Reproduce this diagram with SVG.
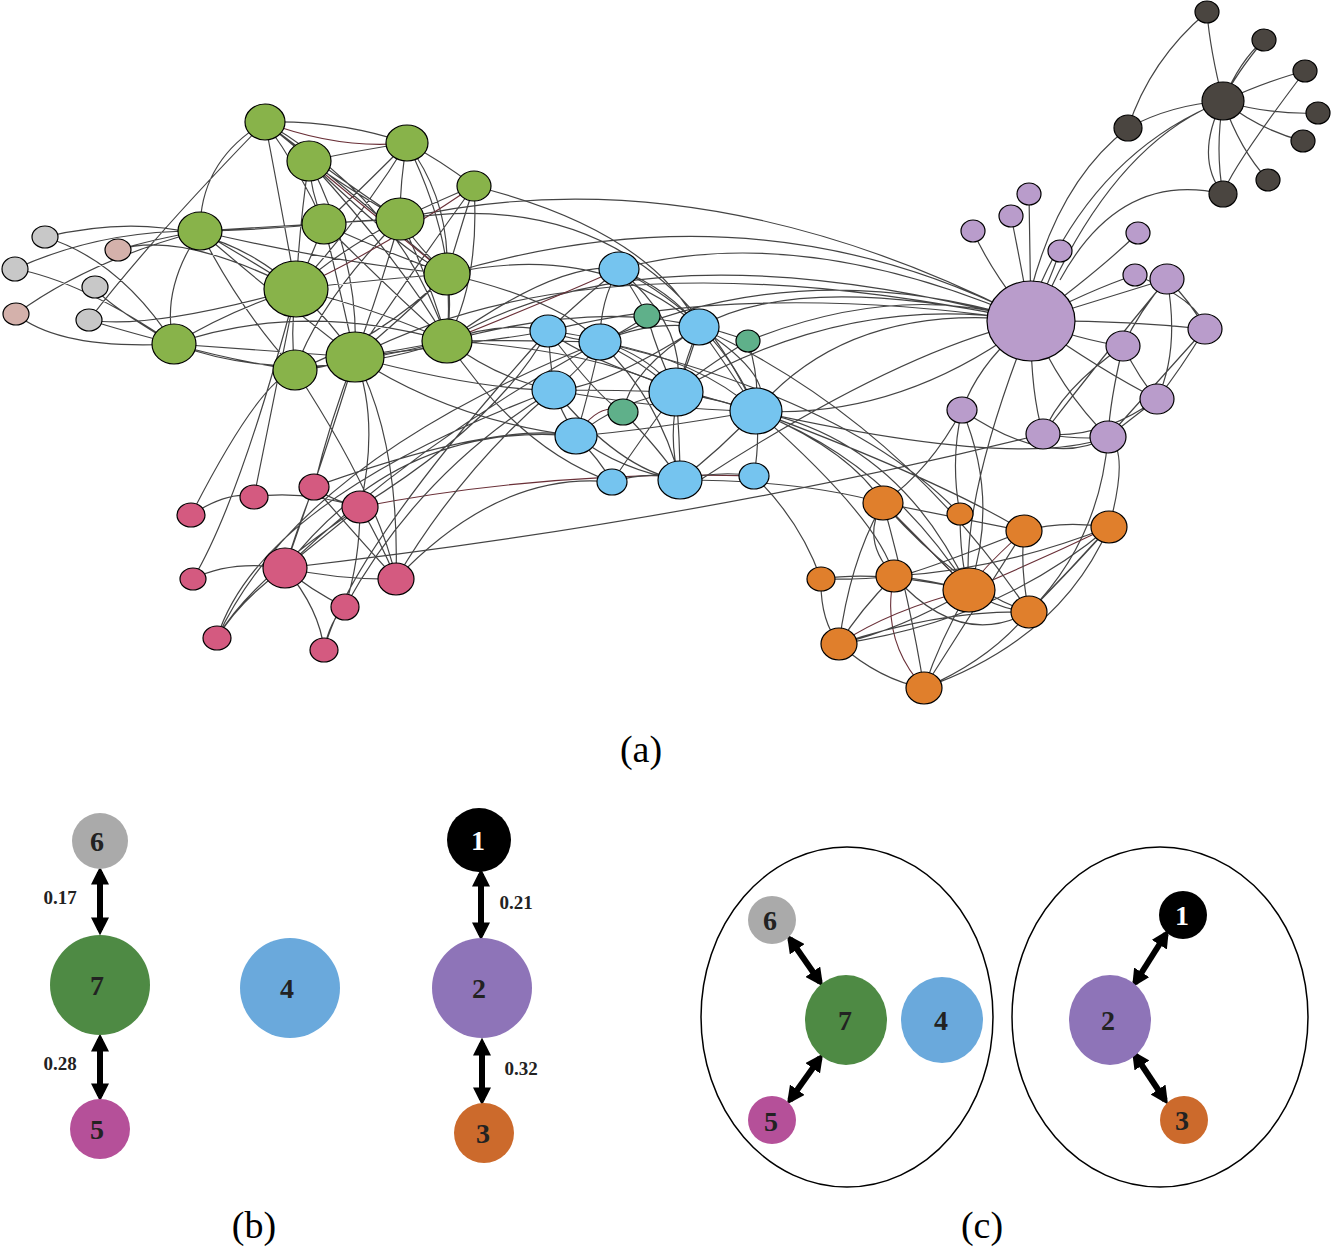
<svg xmlns="http://www.w3.org/2000/svg" width="1332" height="1249" viewBox="0 0 1332 1249">
<style>
.e{fill:none;stroke:#444;stroke-width:1.2}
.r{fill:none;stroke:#6a3038;stroke-width:1.1}
.n ellipse{stroke:#000;stroke-width:1.2}
.dk{fill:#4a4540}.pu{fill:#b99ccb}.gr{fill:#88b34a}.gy{fill:#c8c8c8}.pg{fill:#d4b1ab}.bl{fill:#75c4ef}.tl{fill:#5fb08a}.pk{fill:#d45a80}.or{fill:#e07f2c}
.cap{font-family:"Liberation Serif",serif;font-size:38px;text-anchor:middle}
.num{font-family:"Liberation Serif",serif;font-size:28px;font-weight:bold;text-anchor:middle;fill:#222}
.w{font-family:"Liberation Serif",serif;font-size:19px;font-weight:bold;text-anchor:middle;fill:#222}
.ar{stroke:#000;stroke-width:6;fill:none;marker-start:url(#ah);marker-end:url(#ah)}
</style>
<defs>
<marker id="ah" viewBox="0 0 10 10" refX="7" refY="5" markerWidth="3" markerHeight="3" orient="auto-start-reverse"><path d="M0,0 L10,5 L0,10 z" fill="#000"/></marker>
</defs>
<g id="connectors">
<path class="e" d="M1223 101 Q1210 50 1207 12 M1223 101 Q1240 60 1264 40 M1223 101 Q1270 80 1305 71 M1223 101 Q1270 115 1318 113 M1223 101 Q1260 130 1303 141 M1223 101 Q1240 150 1268 180 M1223 101 Q1215 150 1223 194 M1223 101 Q1170 105 1128 128 M1223 101 Q1100 150 1040 285 M1223 101 Q1120 140 1050 290 M1223 194 Q1120 170 1060 280 M1128 128 Q1060 180 1031 290 M1207 12 Q1150 60 1128 128 M1264 40 Q1180 140 1223 194 M1305 71 Q1230 170 1223 194"/>
<path class="e" d="M1031 321 Q1030 250 1029 194 M1031 321 Q1020 260 1011 216 M1031 321 Q990 270 973 231 M1031 321 Q1050 280 1060 251 M1031 321 Q1100 270 1138 233 M1031 321 Q1090 290 1135 275 M1031 321 Q1100 300 1167 279 M1031 321 Q1120 320 1205 329 M1031 321 Q1080 340 1123 346 M1031 321 Q1100 370 1157 399 M1031 321 Q1060 390 1108 437 M1031 321 Q1030 390 1043 434 M1031 321 Q980 360 962 410 M1167 279 Q1190 300 1205 329 M1167 279 Q1140 310 1123 346 M1167 279 Q1180 350 1157 399 M1167 279 Q1100 360 1043 434 M1205 329 Q1180 370 1157 399 M1205 329 Q1150 390 1108 437 M1123 346 Q1140 380 1157 399 M1123 346 Q1060 390 1043 434 M1123 346 Q1110 400 1108 437 M1157 399 Q1130 420 1108 437 M1157 399 Q1100 440 1043 434 M1043 434 Q1080 440 1108 437 M1108 437 Q1050 470 962 410 M1135 275 Q1200 300 1205 329 M1108 437 Q1020 470 756 411"/>
<path class="e" d="M1031 321 Q800 220 619 269 M1031 321 Q800 270 699 327 M1031 321 Q850 300 756 411 M1031 321 Q800 250 600 342 M1031 321 Q850 290 676 392 M1031 321 Q900 280 748 341 M1031 321 Q760 180 447 274 M1031 321 Q700 150 400 219 M1031 321 Q650 220 447 341 M1031 321 Q750 280 548 331 M1031 321 Q900 420 756 411 M1031 321 Q900 350 700 480 M1031 321 Q960 500 969 590 M962 410 Q930 470 883 503 M962 410 Q1000 500 969 590 M962 410 Q950 460 960 514 M1108 437 Q1100 540 1029 612 M1043 434 Q700 520 285 568 M1031 321 Q600 230 355 357"/>
<path class="e" d="M265 122 Q290 140 309 161 M265 122 Q340 180 400 219 M265 122 Q300 170 324 224 M265 122 Q280 200 296 289 M265 122 Q200 160 200 231 M265 122 Q360 200 447 274 M265 122 Q400 200 447 341 M265 122 Q340 120 407 143 M407 143 Q360 150 309 161 M407 143 Q400 180 400 219 M407 143 Q360 190 324 224 M407 143 Q450 200 447 274 M407 143 Q360 220 296 289 M407 143 Q460 250 447 341 M407 143 Q440 160 474 186 M309 161 Q350 190 400 219 M309 161 Q310 190 324 224 M309 161 Q300 220 296 289 M309 161 Q400 250 447 274 M309 161 Q360 260 355 357 M309 161 Q400 260 447 341 M474 186 Q440 200 400 219 M474 186 Q460 230 447 274 M474 186 Q480 280 447 341 M474 186 Q420 260 355 357 M200 231 Q260 230 324 224 M200 231 Q300 225 400 219 M200 231 Q250 260 296 289 M200 231 Q160 290 174 344 M200 231 Q280 300 355 357 M200 231 Q240 310 295 370 M200 231 Q320 260 447 274 M324 224 Q360 220 400 219 M324 224 Q310 260 296 289 M324 224 Q340 290 355 357 M324 224 Q380 250 447 274 M324 224 Q390 290 447 341 M400 219 Q420 250 447 274 M400 219 Q340 250 296 289 M400 219 Q380 290 355 357 M400 219 Q430 280 447 341 M400 219 Q320 300 295 370 M447 274 Q370 280 296 289 M447 274 Q400 320 355 357 M447 274 Q450 310 447 341 M447 274 Q380 340 295 370 M296 289 Q230 310 174 344 M296 289 Q330 320 355 357 M296 289 Q290 330 295 370 M296 289 Q380 310 447 341 M174 344 Q260 350 355 357 M174 344 Q230 360 295 370 M174 344 Q300 300 447 341 M174 344 Q300 390 447 341 M355 357 Q400 350 447 341 M355 357 Q320 370 295 370 M295 370 Q370 360 447 341 M174 344 Q120 260 45 237 M174 344 Q100 300 95 287 M174 344 Q120 330 89 320 M174 344 Q80 280 15 269 M200 231 Q100 230 15 269 M200 231 Q150 240 118 250 M200 231 Q90 260 16 314 M296 289 Q200 200 45 237 M265 122 Q150 240 89 320 M296 289 Q180 230 118 250 M174 344 Q60 350 16 314 M296 289 Q150 330 89 320"/>
<path class="r" d="M309 161 Q380 220 447 274 M265 122 Q340 150 407 143 M296 289 Q380 250 474 186 M447 341 Q550 300 619 269 M360 507 Q550 470 754 476 M883 503 Q940 560 969 590 M1109 527 Q1040 560 969 590 M839 644 Q890 610 969 590 M894 576 Q880 640 924 688 M1024 531 Q980 570 969 590 M576 436 Q600 400 623 412"/>
<path class="e" d="M447 341 Q500 320 548 331 M447 341 Q520 340 600 342 M447 341 Q500 380 554 390 M447 341 Q560 260 619 269 M447 341 Q600 300 699 327 M447 341 Q600 350 676 392 M355 357 Q500 340 548 331 M355 357 Q480 390 554 390 M447 274 Q560 300 600 342 M447 341 Q520 450 612 482 M355 357 Q450 420 576 436 M447 274 Q600 240 699 327 M400 219 Q650 180 756 411 M474 186 Q650 230 699 327"/>
<path class="e" d="M619 269 Q600 300 600 342 M619 269 Q580 300 548 331 M619 269 Q640 300 647 316 M619 269 Q670 290 699 327 M619 269 Q690 330 676 392 M619 269 Q720 320 756 411 M548 331 Q570 340 600 342 M548 331 Q550 360 554 390 M548 331 Q640 340 676 392 M548 331 Q600 400 623 412 M600 342 Q650 320 699 327 M600 342 Q640 360 676 392 M600 342 Q580 370 554 390 M600 342 Q590 390 576 436 M600 342 Q700 360 756 411 M600 342 Q660 400 680 480 M699 327 Q690 360 676 392 M699 327 Q730 370 756 411 M699 327 Q630 370 623 412 M699 327 Q720 330 748 341 M699 327 Q600 390 554 390 M699 327 Q660 420 680 480 M554 390 Q620 390 676 392 M554 390 Q560 410 576 436 M554 390 Q660 410 756 411 M676 392 Q720 400 756 411 M676 392 Q680 440 680 480 M676 392 Q620 400 576 436 M676 392 Q640 440 612 482 M756 411 Q720 450 680 480 M756 411 Q760 440 754 476 M756 411 Q650 430 576 436 M576 436 Q620 470 680 480 M576 436 Q600 460 612 482 M623 412 Q660 450 680 480 M647 316 Q660 360 676 392 M647 316 Q610 340 600 342 M748 341 Q760 380 756 411 M748 341 Q700 370 676 392 M612 482 Q650 470 680 480 M680 480 Q720 470 754 476 M554 390 Q620 470 680 480 M756 411 Q600 370 548 331 M699 327 Q780 380 756 411"/>
<path class="e" d="M756 411 Q850 450 883 503 M756 411 Q900 440 969 590 M756 411 Q940 480 1024 531 M676 392 Q860 420 969 590 M699 327 Q900 420 1029 612 M680 480 Q800 480 883 503 M756 411 Q880 520 894 576 M600 342 Q850 400 960 514 M754 476 Q800 520 821 579"/>
<path class="e" d="M360 507 Q330 500 314 487 M360 507 Q300 490 254 497 M360 507 Q320 540 285 568 M360 507 Q380 540 396 579 M360 507 Q360 560 345 607 M285 568 Q340 580 396 579 M285 568 Q310 590 345 607 M285 568 Q240 600 217 638 M285 568 Q320 610 324 650 M285 568 Q230 560 193 579 M191 515 Q230 490 254 497 M254 497 Q270 420 296 289 M314 487 Q330 420 355 357 M360 507 Q380 420 355 357 M285 568 Q330 440 355 357 M396 579 Q400 440 355 357 M396 579 Q380 500 295 370 M193 579 Q240 500 296 289 M191 515 Q260 380 295 370 M217 638 Q260 500 554 390 M217 638 Q300 460 600 342 M324 650 Q350 550 548 331 M285 568 Q400 420 576 436 M345 607 Q420 470 554 390 M396 579 Q500 470 612 482 M360 507 Q500 420 548 331 M396 579 Q460 470 554 390 M285 568 Q420 440 600 342 M314 487 Q500 420 576 436 M217 638 Q250 580 360 507 M396 579 Q360 540 314 487 M285 568 Q300 520 314 487 M324 650 Q330 620 345 607"/>
<path class="e" d="M883 503 Q860 540 894 576 M883 503 Q920 540 969 590 M883 503 Q850 560 839 644 M883 503 Q910 600 924 688 M883 503 Q970 520 1024 531 M883 503 Q960 590 1029 612 M1024 531 Q1060 520 1109 527 M1024 531 Q1020 570 1029 612 M1024 531 Q980 600 924 688 M1024 531 Q900 580 894 576 M1109 527 Q1070 570 1029 612 M1109 527 Q1060 640 924 688 M1109 527 Q1000 570 894 576 M1109 527 Q1000 620 839 644 M969 590 Q1000 610 1029 612 M969 590 Q940 640 924 688 M969 590 Q930 580 894 576 M969 590 Q900 630 839 644 M969 590 Q880 570 821 579 M894 576 Q860 580 821 579 M894 576 Q860 610 839 644 M894 576 Q960 650 1029 612 M839 644 Q880 680 924 688 M839 644 Q940 610 1029 612 M821 579 Q820 620 839 644 M924 688 Q990 660 1029 612 M960 514 Q960 560 969 590 M1029 612 Q1080 560 1109 527 M1109 527 Q1130 450 1108 437"/>
</g>
<g class="n">
<g id="dk"><ellipse class="dk" cx="1223" cy="101" rx="21" ry="19"/><ellipse class="dk" cx="1207" cy="12" rx="12" ry="11"/><ellipse class="dk" cx="1264" cy="40" rx="12" ry="11"/><ellipse class="dk" cx="1305" cy="71" rx="12" ry="11"/><ellipse class="dk" cx="1318" cy="113" rx="12" ry="11"/><ellipse class="dk" cx="1303" cy="141" rx="12" ry="11"/><ellipse class="dk" cx="1268" cy="180" rx="12" ry="11"/><ellipse class="dk" cx="1223" cy="194" rx="14" ry="13"/><ellipse class="dk" cx="1128" cy="128" rx="14" ry="13"/></g>
<g id="pu"><ellipse class="pu" cx="1031" cy="321" rx="44" ry="40"/><ellipse class="pu" cx="1029" cy="194" rx="12" ry="11"/><ellipse class="pu" cx="1011" cy="216" rx="12" ry="11"/><ellipse class="pu" cx="973" cy="231" rx="12" ry="11"/><ellipse class="pu" cx="1060" cy="251" rx="12" ry="11"/><ellipse class="pu" cx="1138" cy="233" rx="12" ry="11"/><ellipse class="pu" cx="1135" cy="275" rx="12" ry="11"/><ellipse class="pu" cx="1167" cy="279" rx="17" ry="15"/><ellipse class="pu" cx="1205" cy="329" rx="17" ry="15"/><ellipse class="pu" cx="1123" cy="346" rx="17" ry="15"/><ellipse class="pu" cx="1157" cy="399" rx="17" ry="15"/><ellipse class="pu" cx="1108" cy="437" rx="18" ry="16"/><ellipse class="pu" cx="1043" cy="434" rx="17" ry="15"/><ellipse class="pu" cx="962" cy="410" rx="15" ry="13"/></g>
<g id="gr"><ellipse class="gr" cx="265" cy="122" rx="20" ry="18"/><ellipse class="gr" cx="407" cy="143" rx="21" ry="18"/><ellipse class="gr" cx="309" cy="161" rx="22" ry="20"/><ellipse class="gr" cx="474" cy="186" rx="17" ry="15"/><ellipse class="gr" cx="200" cy="231" rx="22" ry="19"/><ellipse class="gr" cx="324" cy="224" rx="22" ry="20"/><ellipse class="gr" cx="400" cy="219" rx="24" ry="21"/><ellipse class="gr" cx="447" cy="274" rx="23" ry="21"/><ellipse class="gr" cx="296" cy="289" rx="32" ry="28"/><ellipse class="gr" cx="174" cy="344" rx="22" ry="20"/><ellipse class="gr" cx="355" cy="357" rx="29" ry="25"/><ellipse class="gr" cx="447" cy="341" rx="25" ry="22"/><ellipse class="gr" cx="295" cy="370" rx="22" ry="20"/></g>
<g id="gy"><ellipse class="gy" cx="45" cy="237" rx="13" ry="11"/><ellipse class="gy" cx="15" cy="269" rx="13" ry="12"/><ellipse class="gy" cx="95" cy="287" rx="13" ry="11"/><ellipse class="gy" cx="89" cy="320" rx="13" ry="11"/><ellipse class="pg" cx="118" cy="250" rx="13" ry="11"/><ellipse class="pg" cx="16" cy="314" rx="13" ry="11"/></g>
<g id="bl"><ellipse class="bl" cx="619" cy="269" rx="20" ry="17"/><ellipse class="bl" cx="548" cy="331" rx="18" ry="16"/><ellipse class="bl" cx="600" cy="342" rx="21" ry="18"/><ellipse class="bl" cx="699" cy="327" rx="20" ry="18"/><ellipse class="bl" cx="554" cy="390" rx="22" ry="19"/><ellipse class="bl" cx="676" cy="392" rx="27" ry="24"/><ellipse class="bl" cx="756" cy="411" rx="26" ry="23"/><ellipse class="bl" cx="576" cy="436" rx="21" ry="18"/><ellipse class="bl" cx="680" cy="480" rx="22" ry="19"/><ellipse class="bl" cx="612" cy="482" rx="15" ry="13"/><ellipse class="bl" cx="754" cy="476" rx="15" ry="13"/><ellipse class="tl" cx="647" cy="316" rx="13" ry="12"/><ellipse class="tl" cx="748" cy="341" rx="12" ry="11"/><ellipse class="tl" cx="623" cy="412" rx="15" ry="13"/></g>
<g id="pk"><ellipse class="pk" cx="191" cy="515" rx="14" ry="12"/><ellipse class="pk" cx="254" cy="497" rx="14" ry="12"/><ellipse class="pk" cx="314" cy="487" rx="15" ry="13"/><ellipse class="pk" cx="360" cy="507" rx="18" ry="16"/><ellipse class="pk" cx="285" cy="568" rx="22" ry="20"/><ellipse class="pk" cx="396" cy="579" rx="18" ry="16"/><ellipse class="pk" cx="193" cy="579" rx="13" ry="11"/><ellipse class="pk" cx="345" cy="607" rx="14" ry="13"/><ellipse class="pk" cx="217" cy="638" rx="14" ry="12"/><ellipse class="pk" cx="324" cy="650" rx="14" ry="12"/></g>
<g id="or"><ellipse class="or" cx="883" cy="503" rx="20" ry="17"/><ellipse class="or" cx="960" cy="514" rx="13" ry="11"/><ellipse class="or" cx="1024" cy="531" rx="18" ry="16"/><ellipse class="or" cx="1109" cy="527" rx="18" ry="16"/><ellipse class="or" cx="821" cy="579" rx="14" ry="12"/><ellipse class="or" cx="894" cy="576" rx="18" ry="16"/><ellipse class="or" cx="969" cy="590" rx="26" ry="22"/><ellipse class="or" cx="1029" cy="612" rx="18" ry="16"/><ellipse class="or" cx="839" cy="644" rx="18" ry="16"/><ellipse class="or" cx="924" cy="688" rx="18" ry="16"/></g>
</g>
<text class="cap" x="641" y="762">(a)</text>
<text class="cap" x="254" y="1238">(b)</text>
<text class="cap" x="982" y="1238">(c)</text>
<g id="b-arrows">
<path class="ar" d="M100 872 L100 930"/><path class="ar" d="M100 1039 L100 1096"/><path class="ar" d="M481 874 L481 935"/><path class="ar" d="M482 1043 L482 1100"/>
</g>
<text class="w" x="60" y="904">0.17</text><text class="w" x="60" y="1070">0.28</text><text class="w" x="516" y="909">0.21</text><text class="w" x="521" y="1075">0.32</text>
<g id="b6"><circle cx="100" cy="841" r="28" fill="#aaaaaa"/><text class="num" x="97" y="851">6</text></g>
<g id="b7"><circle cx="100" cy="985" r="50" fill="#4e8a44"/><text class="num" x="97" y="995">7</text></g>
<g id="b4"><circle cx="290" cy="988" r="50" fill="#6aa9dc"/><text class="num" x="287" y="998">4</text></g>
<g id="b1"><circle cx="479" cy="840" r="32" fill="#000"/><text class="num" x="478" y="850" style="fill:#fff">1</text></g>
<g id="b2"><circle cx="482" cy="988" r="50" fill="#8e74b8"/><text class="num" x="479" y="998">2</text></g>
<g id="b5"><circle cx="100" cy="1129" r="30" fill="#b55099"/><text class="num" x="97" y="1139">5</text></g>
<g id="b3"><circle cx="484" cy="1133" r="30" fill="#cc6a2c"/><text class="num" x="483" y="1143">3</text></g>
<g id="c-groups"><ellipse cx="847" cy="1017" rx="146" ry="170" fill="none" stroke="#000" stroke-width="1.5"/><ellipse cx="1160" cy="1017" rx="148" ry="170" fill="none" stroke="#000" stroke-width="1.5"/></g>
<g id="c-arrows">
<path class="ar" d="M790 939 L820 982"/><path class="ar" d="M790 1100 L820 1058"/><path class="ar" d="M1166 934 L1135 983"/><path class="ar" d="M1135 1055 L1165 1100"/>
</g>
<g id="c6"><circle cx="772" cy="920" r="24" fill="#aaaaaa"/><text class="num" x="770" y="930">6</text></g>
<g id="c7"><ellipse cx="846" cy="1020" rx="41" ry="45" fill="#4e8a44"/><text class="num" x="845" y="1030">7</text></g>
<g id="c4"><ellipse cx="942" cy="1020" rx="41" ry="43" fill="#6aa9dc"/><text class="num" x="941" y="1030">4</text></g>
<g id="c5"><circle cx="772" cy="1120" r="24" fill="#b55099"/><text class="num" x="771" y="1131">5</text></g>
<g id="c1"><circle cx="1183" cy="915" r="24" fill="#000"/><text class="num" x="1182" y="925" style="fill:#fff">1</text></g>
<g id="c2"><ellipse cx="1110" cy="1020" rx="41" ry="45" fill="#8e74b8"/><text class="num" x="1108" y="1030">2</text></g>
<g id="c3"><circle cx="1184" cy="1120" r="24" fill="#cc6a2c"/><text class="num" x="1182" y="1130">3</text></g>
</svg>
